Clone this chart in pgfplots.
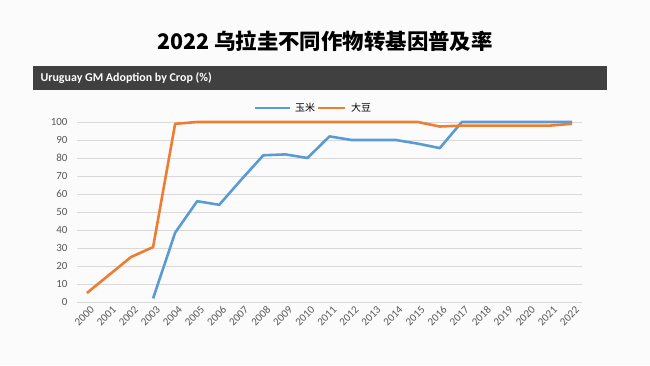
\documentclass[border=0pt]{standalone}
\usepackage{fontspec}
\setmainfont{Carlito}
\newfontfamily\cjk{Noto Sans CJK SC}
\usepackage{pgfplots}
\pgfplotsset{compat=1.18}
\definecolor{cblue}{HTML}{5B9BD5}
\definecolor{corange}{HTML}{ED7D31}
\definecolor{tickgray}{HTML}{595959}
\definecolor{banner}{HTML}{404040}
\definecolor{bg}{HTML}{FBFBFB}
\definecolor{gridc}{HTML}{D9D9D9}
\begin{document}
\begin{tikzpicture}[x=1bp,y=1bp]
\fill[bg] (0,0) rectangle (650,365);
\node[font=\cjk\bfseries\fontsize{21.5}{24}\selectfont] at (325,324) {2022 乌拉圭不同作物转基因普及率};
\fill[banner] (33,275) rectangle (607,299);
\node[anchor=west, text=white, font=\bfseries\fontsize{12}{13}\selectfont] at (37,287) {Uruguay GM Adoption by Crop (\%)};
% legend
\draw[cblue, line width=2.6pt] (255,257) -- (290,257);
\node[anchor=west, font=\cjk\fontsize{10}{11}\selectfont, inner sep=0pt] at (295,257) {玉米};
\draw[corange, line width=2.6pt] (318,257) -- (345,257);
\node[anchor=west, font=\cjk\fontsize{10}{11}\selectfont, inner sep=0pt] at (351,257) {大豆};
\begin{axis}[
  at={(77bp,63bp)}, anchor=south west,
  scale only axis, width=505bp, height=180bp,
  xmin=1999.55, xmax=2022.45, ymin=0, ymax=100,
  ymajorgrids, grid style={gridc, line width=0.8pt},
  ytick={0,10,...,100},
  xtick={2000,...,2022},
  axis line style={draw=none},
  major tick length=0pt,
  /pgf/number format/assume math mode=true,
  /pgf/number format/1000 sep={},
  yticklabel style={font=\fontsize{11}{12}\selectfont, text=tickgray, xshift=-6bp},
  xticklabel style={font=\fontsize{11}{12}\selectfont, text=tickgray, rotate=45, anchor=east, xshift=3bp, yshift=-8bp},
  clip=false,
]
\addplot[cblue, line width=2.6pt, line join=round] coordinates {
(2003,2) (2004,38.5) (2005,56) (2006,54) (2007,68) (2008,81.5) (2009,82) (2010,80)
(2011,92) (2012,90) (2013,90) (2014,90) (2015,88) (2016,85.5) (2017,100) (2018,100)
(2019,100) (2020,100) (2021,100) (2022,100)};
\addplot[corange, line width=2.6pt, line join=round] coordinates {
(2000,5) (2001,15) (2002,25) (2003,30.5) (2004,99) (2005,100) (2006,100) (2007,100)
(2008,100) (2009,100) (2010,100) (2011,100) (2012,100) (2013,100) (2014,100) (2015,100)
(2016,97.5) (2017,98) (2018,98) (2019,98) (2020,98) (2021,98) (2022,99)};
\end{axis}
\end{tikzpicture}
\end{document}
